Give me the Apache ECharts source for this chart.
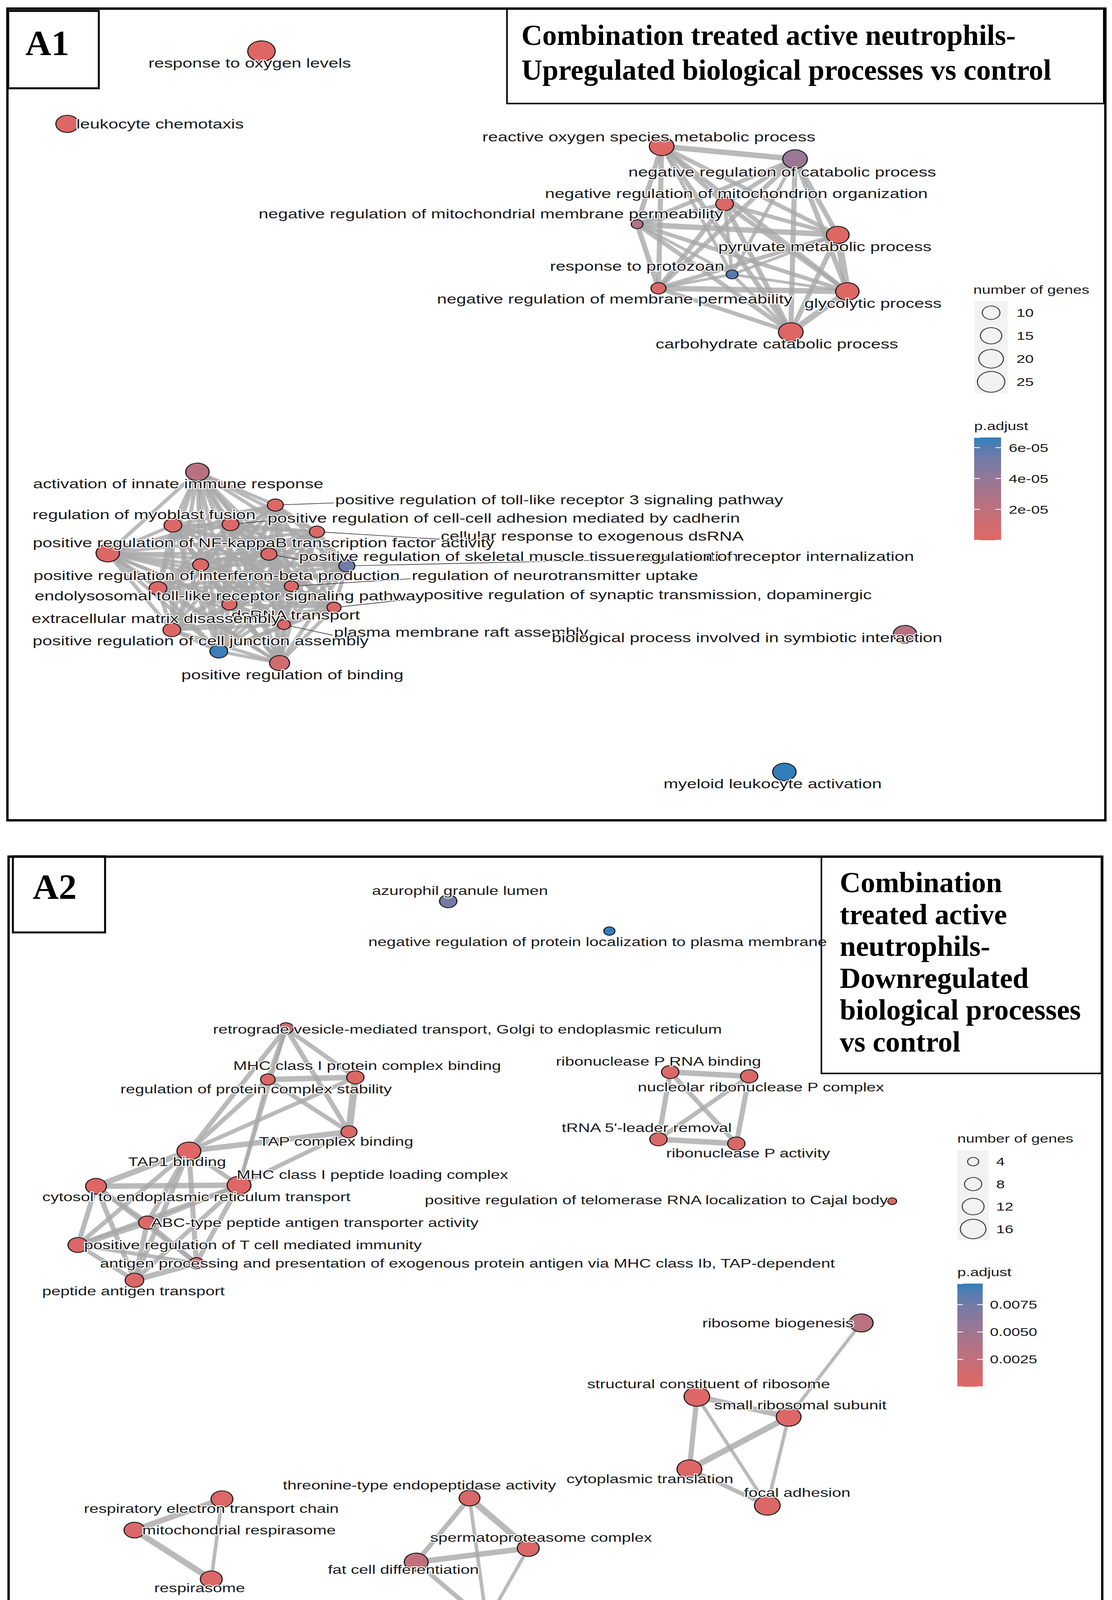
<!DOCTYPE html>
<html><head><meta charset="utf-8">
<script src="https://cdn.jsdelivr.net/npm/echarts@6/dist/echarts.min.js"></script>
<style>
html,body{margin:0;padding:0;background:#fff;}
#wrap{position:relative;width:2847px;height:4286px;overflow:hidden;background:#fff;}
#net{position:absolute;left:0;top:0;transform-origin:0 0;}
#frame{position:absolute;left:0;top:0;width:2847px;height:4286px;pointer-events:none;}
</style></head><body>
<div id="wrap"><div id="net"></div><div id="frame"></div></div>
<script>
// ---------------- DATA: panel A1 (upregulated) ----------------
const a1Terms = [
"response to oxygen levels",
"leukocyte chemotaxis",
"reactive oxygen species metabolic process",
"negative regulation of catabolic process",
"negative regulation of mitochondrion organization",
"negative regulation of mitochondrial membrane permeability",
"pyruvate metabolic process",
"response to protozoan",
"negative regulation of membrane permeability",
"glycolytic process",
"carbohydrate catabolic process",
"activation of innate immune response",
"positive regulation of toll-like receptor 3 signaling pathway",
"regulation of myoblast fusion",
"positive regulation of cell-cell adhesion mediated by cadherin",
"cellular response to exogenous dsRNA",
"positive regulation of NF-kappaB transcription factor activity",
"positive regulation of skeletal muscle tissue regeneration",
"regulation of receptor internalization",
"positive regulation of interferon-beta production",
"endolysosomal toll-like receptor signaling pathway",
"regulation of neurotransmitter uptake",
"dsRNA transport",
"positive regulation of synaptic transmission, dopaminergic",
"extracellular matrix disassembly",
"plasma membrane raft assembly",
"positive regulation of cell junction assembly",
"positive regulation of binding",
"biological process involved in symbiotic interaction",
"myeloid leukocyte activation"
];
// network layout coordinates (layout units)
const a1X = [245, 63, 620, 745, 679, 597, 785, 686, 617, 794, 741, 185, 258, 162, 216, 297, 101, 252, 325, 188, 148, 273, 215, 313, 161, 266, 205, 262, 848, 735];
const a1Y = [48, 116, 137, 149, 191, 210, 220, 257, 270, 273, 311, 442, 473, 492, 491, 498, 518, 519, 530, 529, 551, 549, 566, 569, 590, 585, 610, 621, 594, 723];
const a1Genes = [25, 17, 20, 20, 10, 4, 17, 4, 7, 18, 20, 18, 8, 10, 9, 7, 18, 8, 8, 8, 10, 6, 7, 6, 10, 5, 10, 13, 18, 18];
const a1Padj = [1e-6, 2e-6, 1e-6, 3.8e-5, 3e-6, 2.6e-5, 1e-6, 6.0e-5, 4e-6, 1e-6, 1e-6, 2.3e-5, 3e-6, 3e-6, 3e-6, 3e-6, 2e-6, 3e-6, 5.3e-5, 3e-6, 3e-6, 3e-6, 3e-6, 3e-6, 2e-6, 3e-6, 6.5e-5, 9e-6, 2.4e-5, 6.66e-5];
// similarity edges [source, target, weight class]
const a1Edges = [
[2,3,3],[2,4,2],[2,5,2],[2,6,2],[2,7,1],[2,8,2],[2,9,2],[2,10,2],
[3,4,2],[3,5,2],[3,6,2],[3,7,1],[3,8,2],[3,9,2],[3,10,2],
[4,5,2],[4,6,2],[4,7,1],[4,8,2],[4,9,2],[4,10,2],
[5,6,3],[5,7,1],[5,8,2],[5,9,2],[5,10,2],
[6,7,1],[6,8,2],[6,9,3],[6,10,2],
[7,8,1],[7,9,1],[7,10,1],
[8,9,3],[8,10,2],
[9,10,3]
];
// lower cluster: every pair of these terms is linked
const a1Clique = [11,12,13,14,15,16,17,18,19,20,21,22,23,24,25,26,27];
// terms whose labels were pushed away and carry a leader segment
const a1Leaders = [12,14,15,17,18,21,23,25];
const a1SizeBreaks = [10, 15, 20, 25];
const a1ColorTicks = [2e-5, 4e-5, 6e-5];

// ---------------- DATA: panel A2 (downregulated) ----------------
const a2Terms = [
"azurophil granule lumen",
"negative regulation of protein localization to plasma membrane",
"retrograde vesicle-mediated transport, Golgi to endoplasmic reticulum",
"MHC class I protein complex binding",
"regulation of protein complex stability",
"TAP complex binding",
"TAP1 binding",
"MHC class I peptide loading complex",
"cytosol to endoplasmic reticulum transport",
"ABC-type peptide antigen transporter activity",
"positive regulation of T cell mediated immunity",
"antigen processing and presentation of exogenous protein antigen via MHC class Ib, TAP-dependent",
"peptide antigen transport",
"ribonuclease P RNA binding",
"nucleolar ribonuclease P complex",
"tRNA 5'-leader removal",
"ribonuclease P activity",
"positive regulation of telomerase RNA localization to Cajal body",
"ribosome biogenesis",
"structural constituent of ribosome",
"small ribosomal subunit",
"cytoplasmic translation",
"focal adhesion",
"threonine-type endopeptidase activity",
"spermatoproteasome complex",
"fat cell differentiation",
"regulation of endopeptidase activity",
"respiratory electron transport chain",
"mitochondrial respirasome",
"respirasome"
];
const a2X = [420, 571, 268, 333, 251, 327, 177, 224, 90, 138, 73, 184, 126, 628, 702, 617, 690, 836, 807, 653, 739, 646, 719, 440, 495, 390, 456, 208, 126, 198];
const a2Y = [844, 872, 963, 1009, 1011, 1060, 1078, 1110, 1111, 1145, 1166, 1183, 1199, 1004, 1008, 1067, 1071, 1125, 1239, 1308, 1327, 1376, 1410, 1403, 1450, 1463, 1519, 1404, 1433, 1479];
const a2Genes = [8, 4, 6, 8, 6, 7, 14, 14, 11, 8, 10, 6, 9, 8, 8, 8, 8, 3, 14, 16, 15, 15, 16, 11, 12, 14, 17, 12, 11, 12];
const a2Padj = [0.0072, 0.0094, 0.0018, 0.0004, 0.0004, 0.0004, 0.0002, 0.0002, 0.0003, 0.0004, 0.0003, 0.0006, 0.0004, 0.0005, 0.0005, 0.0005, 0.0005, 0.0008, 0.0031, 0.0003, 0.0003, 0.0003, 0.0004, 0.0006, 0.0006, 0.0027, 0.0004, 0.0005, 0.0005, 0.0005];
const a2Edges = [
[2,4,2],[2,3,2],[2,5,2],[2,6,2],[2,7,1],
[4,3,3],[4,5,2],[4,6,2],[4,7,1],
[3,5,3],[3,6,2],
[5,6,3],[5,7,2],
[6,7,2],[6,8,3],[6,9,2],[6,10,2],[6,11,2],[6,12,2],
[7,8,3],[7,9,2],[7,10,2],[7,11,2],[7,12,2],
[8,9,2],[8,10,2],[8,11,2],[8,12,2],
[9,10,3],[9,11,2],[9,12,2],
[10,11,2],[10,12,2],
[11,12,3],
[13,14,3],[13,15,2],[13,16,2],[14,15,2],[14,16,2],[15,16,3],
[18,20,1],[19,20,3],[19,21,2],[19,22,1],[20,21,3],[20,22,1],[21,22,2],
[23,24,3],[23,25,2],[23,26,1],[25,24,3],[25,26,2],[24,26,1],
[27,28,3],[28,29,3],[27,29,1]
];
const a2SizeBreaks = [4, 8, 12, 16];
const a2ColorTicks = [0.0025, 0.005, 0.0075];

// ---------------- LAYOUT (label placement, in layout units) ----------------
const a1LabelX = [234, 150, 608, 733, 690, 460, 773, 597, 576, 818, 728, 167, 524, 135, 472, 555, 247, 486, 726, 203, 215, 520, 277, 607, 146, 432, 188, 274, 700, 724];
const a1LabelY = [59, 116, 128, 161, 181, 200, 231, 249, 280, 284, 322, 453, 468, 482, 485, 502, 508, 521, 521, 539, 558, 539, 576, 557, 579, 592, 600, 632, 597, 734];
const a2LabelX = [431, 560, 438, 344, 240, 315, 166, 349, 184, 295, 237, 438, 125, 617, 713, 606, 701, 615, 729, 664, 750, 609, 747, 393, 507, 378, 468, 198, 224, 187];
const a2LabelY = [834, 882, 964, 998, 1020, 1069, 1088, 1100, 1121, 1145, 1166, 1183, 1209, 994, 1018, 1056, 1080, 1124, 1239, 1296, 1316, 1385, 1398, 1391, 1440, 1470, 1507, 1413, 1433, 1487];

// ---------------- STYLE ----------------
const K = 1.32;                 // horizontal stretch of the original raster
const W = 2847 / K, H = 4286;
const UX = W / 1042, UY = H / 1568;
const LOW = '#e06663', HIGH = '#327eba';
const FONT = '"Liberation Sans", Arial, Helvetica, sans-serif';
const SERIF = '"Liberation Serif", "Times New Roman", serif';
const a1Scale = {a: 18, b: 25.7};
const a2Scale = {a: -48, b: 39};
const edgeW = {1: 7, 2: 10, 3: 14};
const cliqueW = 8;

function hex2rgb(h){return [parseInt(h.slice(1,3),16),parseInt(h.slice(3,5),16),parseInt(h.slice(5,7),16)];}
function s2l(c){c/=255;return c<=0.04045?c/12.92:Math.pow((c+0.055)/1.055,2.4);}
function l2s(c){c=c<=0.0031308?12.92*c:1.055*Math.pow(c,1/2.4)-0.055;return Math.round(Math.max(0,Math.min(1,c))*255);}
function rgb2lab(rgb){const [r,g,b]=rgb.map(s2l);const X=(r*0.4124+g*0.3576+b*0.1805)/0.95047,Y=r*0.2126+g*0.7152+b*0.0722,Z=(r*0.0193+g*0.1192+b*0.9505)/1.08883;const f=t=>t>0.008856?Math.cbrt(t):7.787*t+16/116;const fx=f(X),fy=f(Y),fz=f(Z);return [116*fy-16,500*(fx-fy),200*(fy-fz)];}
function lab2rgb(lab){const [L,a,b]=lab;const fy=(L+16)/116,fx=fy+a/500,fz=fy-b/200;const fi=t=>{const t3=t*t*t;return t3>0.008856?t3:(t-16/116)/7.787;};const X=fi(fx)*0.95047,Y=fi(fy),Z=fi(fz)*1.08883;return [3.2406*X-1.5372*Y-0.4986*Z,-0.9689*X+1.8758*Y+0.0415*Z,0.0557*X-0.2040*Y+1.0570*Z].map(l2s);}
const LAB_LO = rgb2lab(hex2rgb(LOW)), LAB_HI = rgb2lab(hex2rgb(HIGH));
function ramp(t){t=Math.max(0,Math.min(1,t));const c=lab2rgb(LAB_LO.map((v,i)=>v+(LAB_HI[i]-v)*t));return 'rgb('+c.join(',')+')';}
function sizePx(scale,n){return Math.sqrt(scale.a+scale.b*n)*UX;}

function buildGraph(terms, xs, ys, genes, padj, lx, ly, edges, clique, scale, fontSize){
  const pmax = Math.max.apply(null, padj);
  const data = terms.map((t,i)=>({
    name: t, value: [xs[i], ys[i]],
    symbolSize: sizePx(scale, genes[i]),
    itemStyle: {color: ramp(padj[i]/pmax), borderColor:'#1a1a1a', borderWidth:2.2},
    label: {offset: [(lx[i]-xs[i])*UX, (ly[i]-ys[i])*UY]}
  }));
  const links = [];
  if (clique) { for (let i=0;i<clique.length;i++) for (let j=i+1;j<clique.length;j++) links.push({source:clique[i], target:clique[j], lineStyle:{width:cliqueW}}); }
  edges.forEach(e=>links.push({source:e[0], target:e[1], lineStyle:{width:edgeW[e[2]]}}));
  return {
    type:'graph', coordinateSystem:'cartesian2d', xAxisIndex:0, yAxisIndex:0,
    layout:'none', silent:true, animation:false, roam:false, z:2,
    data, links,
    lineStyle:{color:'#a9a9a9', opacity:0.8, curveness:0},
    label:{show:true, position:'inside', formatter:'{b}', fontFamily:FONT, fontSize, color:'#1a1a1a',
           textBorderColor:'#fff', textBorderWidth:4, align:'center', verticalAlign:'middle'},
    emphasis:{disabled:true}
  };
}

// leader segments from a node's rim to the left edge of its displaced label
const measure = document.createElement('canvas').getContext('2d');
function leaders(idx, terms, xs, ys, genes, lx, ly, scale, fontSize){
  measure.font = fontSize + 'px ' + FONT;
  return idx.map(i=>{
    const half = measure.measureText(terms[i]).width / 2 / UX;
    const ex = lx[i] - half - 1, ey = ly[i] + 3;
    const r = sizePx(scale, genes[i]) / 2;
    const dx = (ex - xs[i]) * UX, dy = (ey - ys[i]) * UY, len = Math.hypot(dx, dy) || 1;
    return {coords:[[xs[i] + dx/len*r/UX, ys[i] + dy/len*r/UY], [ex, ey]]};
  });
}

function sci(v){ if (v<=0) return ''; const s=v.toExponential(0).split('e'); const e=parseInt(s[1],10); return s[0]+'e'+(e<0?'-':'+')+String(Math.abs(e)).padStart(2,'0'); }
function gradient(){ const stops=[]; for(let i=0;i<=10;i++) stops.push({offset:i/10, color:ramp(i/10)}); return {type:'linear',x:0,y:1,x2:0,y2:0,colorStops:stops}; }

const a1PMax = Math.max.apply(null, a1Padj), a2PMax = Math.max.apply(null, a2Padj);
const legendText = {fontFamily:FONT, fontSize:30, color:'#1a1a1a'};
const tickWhite = {show:true, inside:true, length:11, lineStyle:{color:'#ffffff', width:2}};

const net = document.getElementById('net');
net.style.width = W + 'px'; net.style.height = H + 'px';
net.style.transform = 'scaleX(' + K + ')';
const chart = echarts.init(net, null, {renderer:'svg', width:W, height:H});

chart.setOption({
  animation:false,
  backgroundColor:'transparent',
  title:[
    {text:'number of genes', left:2492/K, top:726, padding:0, textStyle:Object.assign({fontWeight:'normal'}, legendText)},
    {text:'p.adjust', left:2494/K, top:1075, padding:0, textStyle:Object.assign({fontWeight:'normal'}, legendText)},
    {text:'number of genes', left:2451/K, top:2899, padding:0, textStyle:Object.assign({fontWeight:'normal'}, legendText)},
    {text:'p.adjust', left:2451/K, top:3241, padding:0, textStyle:Object.assign({fontWeight:'normal'}, legendText)}
  ],
  grid:[
    {left:0, top:0, width:W, height:H},
    {left:2495/K, top:771, width:85/K, height:236, show:true, backgroundColor:'#F2F2F2', borderWidth:0},
    {left:2494/K, top:1120, width:69/K, height:263},
    {left:2451/K, top:2945, width:81/K, height:230, show:true, backgroundColor:'#F2F2F2', borderWidth:0},
    {left:2451/K, top:3286, width:65/K, height:264}
  ],
  xAxis:[
    {gridIndex:0, type:'value', min:0, max:1042, show:false},
    {gridIndex:1, type:'category', data:['k'], show:false},
    {gridIndex:2, type:'category', data:['c'], show:false},
    {gridIndex:3, type:'category', data:['k'], show:false},
    {gridIndex:4, type:'category', data:['c'], show:false}
  ],
  yAxis:[
    {gridIndex:0, type:'value', min:0, max:1568, inverse:true, show:false},
    {gridIndex:1, type:'category', data:a1SizeBreaks.map(String), inverse:true, position:'right',
     axisLine:{show:false}, axisTick:{show:false}, axisLabel:Object.assign({margin:17}, legendText)},
    {gridIndex:2, type:'value', min:0, max:a1PMax, interval:2e-5, position:'right', z:10,
     axisLine:{show:false}, splitLine:{show:false}, axisTick:tickWhite,
     axisLabel:Object.assign({margin:15, showMaxLabel:false, formatter:v=>a1ColorTicks.some(t=>Math.abs(t-v)<1e-9)?sci(v):''}, legendText)},
    {gridIndex:2, type:'value', min:0, max:a1PMax, interval:2e-5, position:'left', z:10,
     axisLine:{show:false}, splitLine:{show:false}, axisTick:tickWhite, axisLabel:{show:false}},
    {gridIndex:3, type:'category', data:a2SizeBreaks.map(String), inverse:true, position:'right',
     axisLine:{show:false}, axisTick:{show:false}, axisLabel:Object.assign({margin:14}, legendText)},
    {gridIndex:4, type:'value', min:0, max:a2PMax, interval:0.0025, position:'right', z:10,
     axisLine:{show:false}, splitLine:{show:false}, axisTick:tickWhite,
     axisLabel:Object.assign({margin:14, showMaxLabel:false, formatter:v=>a2ColorTicks.some(t=>Math.abs(t-v)<1e-9)?v.toFixed(4):''}, legendText)},
    {gridIndex:4, type:'value', min:0, max:a2PMax, interval:0.0025, position:'left', z:10,
     axisLine:{show:false}, splitLine:{show:false}, axisTick:tickWhite, axisLabel:{show:false}}
  ],
  series:[
    buildGraph(a1Terms, a1X, a1Y, a1Genes, a1Padj, a1LabelX, a1LabelY, a1Edges, a1Clique, a1Scale, 34),
    buildGraph(a2Terms, a2X, a2Y, a2Genes, a2Padj, a2LabelX, a2LabelY, a2Edges, null, a2Scale, 32),
    {type:'lines', coordinateSystem:'cartesian2d', xAxisIndex:0, yAxisIndex:0, silent:true, animation:false, z:2,
     data: leaders(a1Leaders, a1Terms, a1X, a1Y, a1Genes, a1LabelX, a1LabelY, a1Scale, 34),
     lineStyle:{color:'#3a3a3a', width:1.6, opacity:1, curveness:0}},
    {type:'scatter', xAxisIndex:1, yAxisIndex:1, silent:true, data:a1SizeBreaks.map(n=>['k', String(n)]),
     symbolSize:v=>sizePx(a1Scale, Number(v[1])), itemStyle:{color:'rgba(0,0,0,0)', borderColor:'#1a1a1a', borderWidth:2.2}},
    {type:'bar', xAxisIndex:2, yAxisIndex:2, silent:true, data:[a1PMax], barWidth:'100%', itemStyle:{color:gradient()}},
    {type:'scatter', xAxisIndex:3, yAxisIndex:4, silent:true, data:a2SizeBreaks.map(n=>['k', String(n)]),
     symbolSize:v=>sizePx(a2Scale, Number(v[1])), itemStyle:{color:'rgba(0,0,0,0)', borderColor:'#1a1a1a', borderWidth:2.2}},
    {type:'bar', xAxisIndex:4, yAxisIndex:5, silent:true, data:[a2PMax], barWidth:'100%', itemStyle:{color:gradient()}}
  ]
});

// ---------------- Frames and panel titles (unstretched) ----------------
const frame = echarts.init(document.getElementById('frame'), null, {renderer:'svg', width:2847, height:4286});
const boxes = [
  [19, 22, 2811, 2078, 6], [21, 28, 232, 198, 5], [1298, 22, 1528, 243, 4],
  [22, 2193, 2800, 2075, 6], [33, 2192, 236, 195, 5], [2103, 2193, 717, 555, 4]
];
const a1Title = ['Combination treated active neutrophils-', 'Upregulated biological processes vs control'];
const a2Title = ['Combination', 'treated active', 'neutrophils-', 'Downregulated', 'biological processes', 'vs control'];
const g = [];
boxes.forEach(b=>g.push({type:'rect', shape:{x:b[0], y:b[1], width:b[2], height:b[3]}, style:{fill:'rgba(0,0,0,0)', stroke:'#000', lineWidth:b[4]}}));
function txt(s, x, y, size, align){ return {type:'text', x, y, style:{text:s, fontFamily:SERIF, fontWeight:'bold', fontSize:size, fill:'#000', align:align||'left', verticalAlign:'middle'}}; }
g.push(txt('A1', 121, 110, 92, 'center'));
g.push(txt('A2', 140, 2270, 92, 'center'));
a1Title.forEach((s,i)=>g.push(txt(s, 1335, 90 + i*89, 74)));
a2Title.forEach((s,i)=>g.push(txt(s, 2150, 2259 + i*81.6, 74)));
frame.setOption({animation:false, graphic:{elements:g}});
</script></body></html>
